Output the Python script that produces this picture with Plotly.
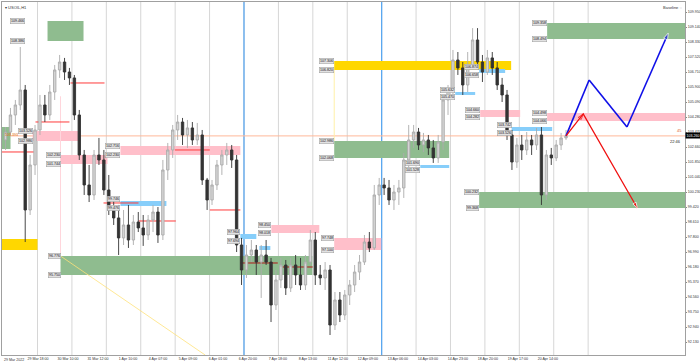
import plotly.graph_objects as go

symbol_title = "USOIL,H1"
indicator_name = "Baseline"
countdown_text = "22:46"

# ---- candles (3-hour aggregation) ----
bar_open = [103.04, 103.47, 104.39, 104.93, 105.74, 99.26, 101.69, 103.58, 104.93, 104.39,
            105.63, 106.82, 107.25, 106.71, 106.39, 104.39, 102.23, 100.61, 100.07, 102.23,
            101.96, 100.34, 99.26, 98.83, 97.75, 98.45, 97.64, 98.61, 98.29, 97.91,
            98.72, 99.15, 97.91, 101.42, 102.50, 103.58, 104.01, 103.31, 103.69, 103.04,
            103.31, 100.88, 99.80, 100.61, 101.69, 102.23, 102.50, 101.96, 97.37, 96.02,
            96.83, 97.10, 96.45, 96.83, 96.45, 94.13, 95.48, 96.29, 95.05, 96.29,
            95.75, 95.21, 96.45, 97.64, 95.75, 95.59, 96.02, 93.05, 94.40, 93.59,
            94.67, 95.21, 95.91, 96.45, 97.53, 97.21, 100.07, 100.61, 100.45, 99.80,
            100.23, 100.45, 101.96, 103.04, 103.47, 102.77, 103.04, 102.61, 102.07, 102.93,
            105.20, 105.74, 107.36, 106.93, 106.01, 107.09, 108.44, 107.25, 106.71, 107.47,
            106.93, 106.01, 105.47, 103.31, 101.85, 102.77, 102.50, 103.04, 102.77, 103.31,
            100.07, 102.23, 102.07, 102.77, 103.15]
bar_high = [103.74, 104.77, 105.20, 108.06, 106.01, 102.23, 103.85, 105.47, 105.47, 106.01,
            107.09, 107.63, 107.47, 106.93, 106.55, 104.66, 102.50, 101.69, 102.50, 103.15,
            102.50, 101.15, 99.80, 99.53, 99.26, 99.53, 98.99, 99.15, 98.99, 98.99,
            99.53, 99.42, 101.96, 102.88, 103.85, 104.39, 104.23, 104.12, 104.01, 103.96,
            103.58, 100.99, 100.88, 101.96, 102.50, 102.88, 102.77, 102.23, 97.75, 97.37,
            97.64, 97.37, 97.37, 97.64, 96.67, 96.02, 96.67, 96.56, 96.67, 96.83,
            96.67, 96.83, 98.18, 98.07, 96.29, 96.45, 96.29, 94.83, 94.83, 94.94,
            95.48, 96.29, 96.83, 97.91, 98.07, 100.61, 100.99, 100.99, 100.88, 100.61,
            100.88, 102.34, 103.85, 103.85, 103.69, 103.42, 103.31, 103.04, 103.31, 105.47,
            106.01, 107.90, 107.79, 107.25, 107.79, 109.08, 109.08, 107.63, 107.90, 107.79,
            107.25, 106.39, 105.74, 103.58, 103.15, 103.31, 103.47, 103.31, 103.69, 103.74,
            102.50, 102.61, 103.04, 103.42, 103.58]
bar_low = [102.50, 103.31, 103.85, 104.66, 97.53, 98.99, 101.15, 103.31, 104.01, 104.12,
           105.20, 106.39, 106.28, 106.01, 104.12, 101.96, 100.07, 99.69, 99.80, 101.69,
           100.07, 98.99, 98.45, 96.83, 97.37, 97.21, 97.37, 98.07, 97.32, 97.64,
           98.07, 97.48, 97.64, 100.88, 102.07, 103.04, 102.77, 102.61, 102.77, 102.77,
           100.61, 99.26, 99.53, 100.34, 101.15, 101.69, 101.53, 96.99, 95.21, 95.59,
           96.45, 95.75, 94.51, 96.29, 93.21, 93.86, 95.05, 94.67, 94.83, 95.21,
           94.94, 94.94, 96.29, 95.21, 95.21, 94.94, 92.51, 92.78, 93.21, 93.32,
           94.13, 94.83, 95.48, 96.29, 96.99, 97.10, 99.53, 100.07, 99.53, 99.26,
           99.53, 99.91, 101.42, 102.61, 102.50, 102.39, 102.23, 101.80, 101.80, 102.50,
           104.39, 105.47, 106.55, 105.47, 105.63, 106.82, 106.93, 106.17, 106.55, 106.55,
           105.74, 105.09, 103.04, 101.42, 101.53, 101.96, 102.23, 102.23, 102.50, 99.53,
           99.80, 101.69, 101.90, 102.50, 103.04]
bar_close = [103.47, 104.39, 104.93, 105.74, 99.26, 101.69, 103.58, 104.93, 104.39, 105.63,
             106.82, 107.25, 106.71, 106.39, 104.39, 102.23, 100.61, 100.07, 102.23, 101.96,
             100.34, 99.26, 98.83, 97.75, 98.45, 97.64, 98.61, 98.29, 97.91, 98.72,
             99.15, 97.91, 101.42, 102.50, 103.58, 104.01, 103.31, 103.69, 103.04, 103.31,
             100.88, 99.80, 100.61, 101.69, 102.23, 102.50, 101.96, 97.37, 96.02, 96.83,
             97.10, 96.45, 96.83, 96.45, 94.13, 95.48, 96.29, 95.05, 96.29, 95.75,
             95.21, 96.45, 97.64, 95.75, 95.59, 96.02, 93.05, 94.40, 93.59, 94.67,
             95.21, 95.91, 96.45, 97.53, 97.21, 100.07, 100.61, 100.45, 99.80, 100.23,
             100.45, 101.96, 103.04, 103.47, 102.77, 103.04, 102.61, 102.07, 102.93, 105.20,
             105.74, 107.36, 106.93, 106.01, 107.09, 108.44, 107.25, 106.71, 107.47, 106.93,
             106.01, 105.47, 103.31, 101.85, 102.77, 102.50, 103.04, 102.77, 103.31, 100.07,
             102.23, 102.07, 102.77, 103.15, 103.26]

time_labels = ["29 Mar 2022", "29 Mar 18:00", "30 Mar 10:00", "31 Mar 12:00", "1 Apr 10:00",
               "4 Apr 07:00", "5 Apr 09:00", "6 Apr 01:00", "6 Apr 20:00", "7 Apr 18:00",
               "8 Apr 13:00", "11 Apr 12:00", "12 Apr 09:00", "13 Apr 06:00", "14 Apr 03:00",
               "14 Apr 23:00", "18 Apr 20:00", "19 Apr 17:00", "20 Apr 14:00"]

price_ticks = [109.95, 109.14, 108.33, 107.52, 106.71, 105.90, 105.09, 104.28, 103.47, 102.66,
               101.85, 101.04, 100.23, 99.42, 98.61, 97.80, 96.99, 96.18, 95.37, 94.56,
               93.75, 92.94, 92.13]

# zones: kind, start bar, end bar, top price, bottom price, show labels, label anchor bar
zones = [
    ("green", 8.54, 15.86, 109.466, 108.386, True, 3.86),
    ("yellow", -0.8, 6.5, 97.694, 97.100, False, None),
    ("green", -0.8, 1.01, 103.742, 102.554, False, None),
    ("pink", 5.49, 15.24, 103.526, 102.986, True, None),
    ("pink", 11.18, 20.73, 102.230, 101.744, True, None),
    ("pink", 23.37, 47.76, 102.716, 102.230, True, None),
    ("blue", 23.37, 32.72, 99.746, 99.476, True, None),
    ("green", 11.18, 62.40, 96.776, 95.750, True, None),
    ("yellow", 66.85, 102.84, 107.306, 106.820, True, None),
    ("green", 66.85, 90.24, 102.986, 102.068, True, None),
    ("blue", 84.35, 90.24, 101.690, 101.528, True, None),
    ("pink", 54.06, 63.82, 98.450, 98.018, True, None),
    ("pink", 66.85, 76.42, 97.748, 97.100, True, None),
    ("blue", 47.76, 51.01, 97.964, 97.694, True, None),
    ("blue", 51.62, 53.86, 97.316, 97.100, False, None),
    ("blue", 91.46, 95.52, 105.632, 105.470, True, None),
    ("blue", 96.33, 101.62, 106.874, 106.658, True, None),
    ("pink", 96.54, 104.67, 104.660, 104.282, True, None),
    ("pink", 110.16, 139.0, 104.498, 104.066, True, None),
    ("blue", 102.94, 111.18, 103.742, 103.526, True, None),
    ("green", 110.16, 139.0, 109.358, 108.494, True, None),
    ("green", 96.33, 139.0, 100.232, 99.368, True, None),
]
left_zone_tag = "103.393"

red_levels = [(13.22, 20.13, 106.118), (6.09, 13.0, 104.012), (-0.8, 6.09, 102.392),
              (34.44, 41.55, 102.50), (19.93, 27.05, 99.638), (27.05, 34.64, 98.666),
              (41.55, 47.76, 99.26)]
dark_red_levels = [(47.76, 55.37, 96.398), (56.38, 62.48, 96.182)]

blue_path_bars = [114, 118.7, 126.4, 134.8]
blue_path_prices = [103.26, 106.28, 103.742, 108.818]
red_path_bars = [114, 117.5, 128.5]
red_path_prices = [103.26, 104.444, 99.368]

diag_bars = [11.18, 40.6]
diag_prices = [96.776, 91.43]

# ---- styles ----
zone_colors = {"green": "#8fbc8f", "pink": "#ffbfca", "blue": "#87cefa", "yellow": "#ffd700"}
X_RANGE = [-0.72, 138.2]
Y_RANGE = [91.43, 110.49]
FONT = "Liberation Sans"
SMALL = 3.6

fig = go.Figure()
shapes = []
annotations = []

# grid lines (every 7 bars)
grid_positions = [7 * k - 0.5 for k in range(1, 18)]
for gx in grid_positions:
    shapes.append(dict(type="line", xref="x", yref="paper", x0=gx, x1=gx, y0=0, y1=1,
                       line=dict(color="#d6d6d6", width=1), layer="below"))

# zones
for kind, x0, x1, top, bot, labeled, lab_x in zones:
    shapes.append(dict(type="rect", xref="x", yref="y", x0=x0, x1=x1, y0=bot, y1=top,
                       fillcolor=zone_colors[kind], line=dict(width=0), layer="between"))
    if labeled:
        ax = lab_x if lab_x is not None else x0
        thin = (top - bot) < 0.35
        for val, ys in ((top, 2 if thin else 0), (bot, -2 if thin else 0)):
            annotations.append(dict(x=ax, y=val, xref="x", yref="y", text=f"{val:.3f}",
                                    showarrow=False, xanchor="right", yanchor="middle",
                                    yshift=ys, font=dict(size=SMALL, color="#111", family=FONT),
                                    bgcolor="#e2e2e2", bordercolor="#9a9a9a", borderwidth=0.5,
                                    borderpad=0.4))

# vertical blue separators
for k in (7, 11):
    gx = 7 * k - 0.5
    shapes.append(dict(type="line", xref="x", yref="paper", x0=gx, x1=gx, y0=0, y1=1,
                       line=dict(color="#5aa8f0", width=1.3), layer="between"))

# faint guide lines
shapes.append(dict(type="line", xref="x", yref="y", x0=66.85, x1=66.85, y0=102.986, y1=106.82,
                   line=dict(color="#fff0a8", width=1), layer="between"))
shapes.append(dict(type="line", xref="x", yref="y", x0=11.18, x1=11.18, y0=96.776, y1=105.4,
                   line=dict(color="#ffd6dc", width=1), layer="between"))

# red level lines
for x0, x1, lvl in red_levels:
    shapes.append(dict(type="line", xref="x", yref="y", x0=x0, x1=x1, y0=lvl, y1=lvl,
                       line=dict(color="#ff3b3b", width=1), layer="between"))
for x0, x1, lvl in dark_red_levels:
    shapes.append(dict(type="line", xref="x", yref="y", x0=x0, x1=x1, y0=lvl, y1=lvl,
                       line=dict(color="#b01818", width=1), layer="between"))

# current price line
last_price = bar_close[-1]
shapes.append(dict(type="line", xref="paper", yref="y", x0=0, x1=1, y0=last_price, y1=last_price,
                   line=dict(color="#ffb89a", width=1), layer="between"))

# diagonal faint yellow
fig.add_trace(go.Scatter(x=diag_bars, y=diag_prices, mode="lines",
                         line=dict(color="#ffe27a", width=0.8), hoverinfo="skip"))

# candles
fig.add_trace(go.Candlestick(
    x=list(range(len(bar_open))), open=bar_open, high=bar_high, low=bar_low, close=bar_close,
    increasing=dict(fillcolor="#d4d4d4", line=dict(color="#ababab", width=0.9)),
    decreasing=dict(fillcolor="#333333", line=dict(color="#333333", width=0.9)),
    whiskerwidth=0, hoverinfo="skip"))

# projection paths
fig.add_trace(go.Scatter(x=blue_path_bars, y=blue_path_prices, mode="lines+markers",
                         line=dict(color="#1010e8", width=1.6),
                         marker=dict(symbol=["circle", "circle", "circle", "arrow"],
                                     size=[0, 0, 0, 7], angleref="previous", color="#1010e8"),
                         hoverinfo="skip"))
fig.add_trace(go.Scatter(x=red_path_bars, y=red_path_prices, mode="lines+markers",
                         line=dict(color="#f01010", width=1.3),
                         marker=dict(symbol=["circle", "arrow-open", "arrow"],
                                     size=[0, 6, 6], angleref="previous", color="#f01010"),
                         hoverinfo="skip"))

# left small-zone tag
annotations.append(dict(x=-0.6, y=103.33, xref="x", yref="y", text=left_zone_tag, showarrow=False,
                        xanchor="left", yanchor="middle",
                        font=dict(size=SMALL, color="#e06a00", family=FONT)))

# price box on axis
annotations.append(dict(x=1, y=last_price, xref="paper", yref="y", text=f"{last_price:.3f}",
                        showarrow=False, xanchor="left", yanchor="middle", xshift=0,
                        font=dict(size=SMALL, color="white", family=FONT), bgcolor="#000000",
                        borderpad=0.6))
annotations.append(dict(x=1, y=last_price, xref="paper", yref="y", text=countdown_text,
                        showarrow=False, xanchor="right", yanchor="top", xshift=-2, yshift=-1,
                        font=dict(size=4, color="#222", family=FONT)))
annotations.append(dict(x=1, y=last_price, xref="paper", yref="y", text="45",
                        showarrow=False, xanchor="right", yanchor="bottom", xshift=-1, yshift=1,
                        font=dict(size=4, color="#e05a20", family=FONT)))

# title + indicator name
annotations.append(dict(x=0, y=1, xref="paper", yref="paper", text="\u25be " + symbol_title,
                        showarrow=False, xanchor="left", yanchor="top", xshift=1, yshift=-1,
                        font=dict(size=4, color="#333", family=FONT)))
annotations.append(dict(x=1, y=1, xref="paper", yref="paper", text=indicator_name + " \u25cc",
                        showarrow=False, xanchor="right", yanchor="top", xshift=-1, yshift=-1,
                        font=dict(size=4, color="#333", family=FONT)))

# first time label (left-aligned at chart start)
annotations.append(dict(x=0, y=0, xref="paper", yref="paper", text=time_labels[0], showarrow=False,
                        xanchor="left", yanchor="top", yshift=-1,
                        font=dict(size=SMALL, color="#333", family=FONT)))

label_positions = [0.5 + 6.1 * n for n in range(1, len(time_labels))]

fig.update_layout(
    width=700, height=362,
    margin=dict(l=2, r=15, t=2, b=7, autoexpand=False),
    paper_bgcolor="white", plot_bgcolor="white",
    showlegend=False,
    shapes=shapes, annotations=annotations,
    xaxis=dict(range=X_RANGE, showgrid=False, zeroline=False, rangeslider=dict(visible=False),
               tickmode="array", tickvals=label_positions, ticktext=time_labels[1:],
               tickfont=dict(size=SMALL, color="#333", family=FONT), ticks="", ticklen=0,
               automargin=False,
               showline=True, linecolor="#a0a0a0", linewidth=1, mirror=True),
    yaxis=dict(range=Y_RANGE, side="right", showgrid=False, zeroline=False,
               tickmode="array", tickvals=price_ticks, ticktext=[f"{v:.3f}" for v in price_ticks],
               tickfont=dict(size=SMALL, color="#333", family=FONT), ticks="outside", ticklen=1,
               tickcolor="#888", automargin=False,
               showline=True, linecolor="#a0a0a0", linewidth=1, mirror=True),
)

fig.write_html("out.html", config={"displayModeBar": False},
               post_script="document.body.style.margin='0';document.body.style.padding='0';")
